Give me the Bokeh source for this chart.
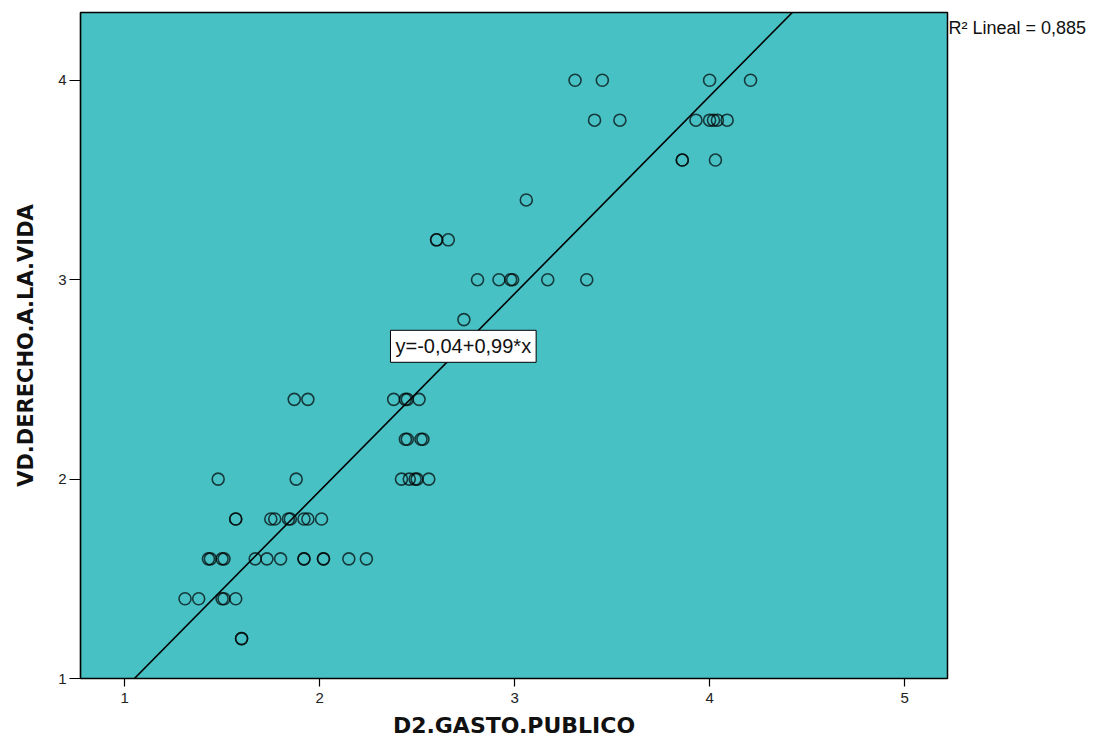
from bokeh.plotting import figure
from bokeh.models import Range1d, FixedTicker, Label, Slope, ColumnDataSource, LinearAxis
from bokeh.embed import file_html
from bokeh.resources import INLINE

# Data
gasto_publico = [
    3.31, 3.45, 4.00, 4.21,
    3.41, 3.54, 3.93, 4.00, 4.02, 4.04, 4.09,
    3.86, 3.86, 4.03,
    3.06,
    2.60, 2.60, 2.66,
    2.81, 2.92, 2.98, 2.99, 3.17, 3.37,
    2.74,
    1.87, 1.94, 2.38, 2.44, 2.45, 2.51,
    2.44, 2.45, 2.52, 2.53,
    1.48, 1.88, 2.42, 2.46, 2.49, 2.50, 2.56,
    1.57, 1.57, 1.75, 1.77, 1.84, 1.85, 1.92, 1.94, 2.01,
    1.43, 1.44, 1.50, 1.51, 1.67, 1.73, 1.80, 1.92, 1.92, 2.02, 2.02, 2.15, 2.24,
    1.31, 1.38, 1.50, 1.51, 1.57,
    1.60, 1.60,
]
derecho_vida = (
    [4.0] * 4 + [3.8] * 7 + [3.6] * 3 + [3.4] * 1 + [3.2] * 3 + [3.0] * 6 +
    [2.8] * 1 + [2.4] * 6 + [2.2] * 4 + [2.0] * 7 + [1.8] * 9 + [1.6] * 13 +
    [1.4] * 5 + [1.2] * 2
)
x_ticks = [1, 2, 3, 4, 5]
y_ticks = [1, 2, 3, 4]
intercept = -0.04
slope = 0.99
r2_text = "R\u00b2 Lineal = 0,885"
r2_pos = 4.26
eq_text = "y=-0,04+0,99*x"
eq_pos = (2.737, 2.666)

TEAL = "#48C1C5"

p = figure(width=1095, height=742,
           x_range=Range1d(0.774, 5.22), y_range=Range1d(1.0, 4.34),
           output_backend="svg", toolbar_location=None,
           min_border_left=80, min_border_right=148,
           min_border_top=12, min_border_bottom=64)

p.background_fill_color = TEAL
p.border_fill_color = "white"
p.outline_line_color = "black"
p.outline_line_width = 1.5
p.xgrid.visible = False
p.ygrid.visible = False

src = ColumnDataSource(dict(x=gasto_publico, y=derecho_vida))
p.scatter("x", "y", source=src, size=12, marker="circle",
          fill_color=None, line_color="black", line_alpha=0.7, line_width=1.6)

p.add_layout(Slope(gradient=slope, y_intercept=intercept,
                   line_color="black", line_width=1.6))

for ax in (p.xaxis[0], p.yaxis[0]):
    ax.minor_tick_line_color = None
    ax.major_tick_in = 0
    ax.axis_line_color = "black"
    ax.axis_line_width = 1.2
    ax.major_tick_line_color = "black"
    ax.major_tick_line_width = 1.2
    ax.major_label_text_font = "Liberation Sans"
    ax.major_label_text_font_size = "15px"
    ax.major_label_text_color = "#222222"
    ax.axis_label_text_font = "DejaVu Sans"
    ax.axis_label_text_font_style = "bold"
    ax.axis_label_text_font_size = "21px"
    ax.axis_label_text_color = "#111111"

p.xaxis.ticker = FixedTicker(ticks=x_ticks)
p.yaxis.ticker = FixedTicker(ticks=y_ticks)
p.xaxis.major_tick_out = 8
p.xaxis.major_label_standoff = 6
p.yaxis.major_tick_out = 11
p.yaxis.major_label_standoff = 3

p.yaxis.axis_label = "VD.DERECHO.A.LA.VIDA"
p.yaxis.axis_label_standoff = 17
p.xaxis.axis_label = "D2.GASTO.PUBLICO"
p.xaxis.axis_label_text_font_size = "22px"
p.xaxis.axis_label_standoff = 7

# R² note on the right of the frame, drawn as a tick label of a bare right axis
r_axis = LinearAxis(ticker=FixedTicker(ticks=[r2_pos]),
                    major_label_overrides={r2_pos: r2_text},
                    axis_line_color=None, major_tick_line_color=None,
                    minor_tick_line_color=None, major_tick_out=0, major_tick_in=0,
                    major_label_standoff=1,
                    major_label_text_font="Liberation Sans",
                    major_label_text_font_size="18px",
                    major_label_text_color="#111111")
p.add_layout(r_axis, "right")

p.add_layout(Label(x=eq_pos[0], y=eq_pos[1], text=eq_text,
                   text_font="Liberation Sans", text_font_size="20px",
                   text_align="center", text_baseline="middle",
                   text_color="#111111",
                   background_fill_color="white",
                   border_line_color="black", border_line_width=1,
                   padding=5))

open("out.html", "w").write(file_html(p, INLINE))
